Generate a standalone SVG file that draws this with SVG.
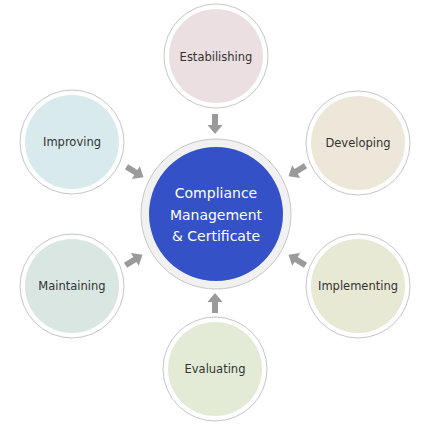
<svg xmlns="http://www.w3.org/2000/svg" width="431" height="431" viewBox="0 0 431 431">
<style>
.ring{fill:#ffffff;stroke:#c6c6c6;stroke-width:1}
.lbl{font-family:"DejaVu Sans",Verdana,sans-serif;font-size:11.5px;fill:#333333;text-anchor:middle}
.clbl{font-family:"DejaVu Sans",Verdana,sans-serif;font-size:14px;fill:#ffffff;text-anchor:middle}
.arr{fill:#9a9a9a}
</style>
<defs>
<path id="a" d="M-10,-3 L1,-3 L1,-7.5 L10,0 L1,7.5 L1,3 L-10,3 Z"/>
</defs>
<rect width="431" height="431" fill="#ffffff"/>
<g id="connectors">
<use href="#a" class="arr" transform="translate(215,124) rotate(90)"/>
<use href="#a" class="arr" transform="translate(215,303) rotate(-90)"/>
<use href="#a" class="arr" transform="translate(135,172) rotate(32)"/>
<use href="#a" class="arr" transform="translate(297,171) rotate(148)"/>
<use href="#a" class="arr" transform="translate(134,260) rotate(-32)"/>
<use href="#a" class="arr" transform="translate(297,260) rotate(212)"/>
</g>
<g id="center">
<circle cx="216" cy="214" r="75" fill="#f1f1f1" stroke="#c6c6c6"/>
<circle cx="216" cy="214" r="67" fill="#3451c8"/>
<text class="clbl" x="216" y="198">Compliance</text>
<text class="clbl" x="216" y="220">Management</text>
<text class="clbl" x="216" y="241">&amp; Certificate</text>
</g>
<g id="establishing">
<circle class="ring" cx="216" cy="56" r="52"/>
<circle cx="216" cy="56" r="47" fill="#ecdfe1"/>
<text class="lbl" x="216" y="61">Estabilishing</text>
</g>
<g id="developing">
<circle class="ring" cx="358" cy="143" r="52"/>
<circle cx="358" cy="143" r="47" fill="#ede7da"/>
<text class="lbl" x="358" y="147">Developing</text>
</g>
<g id="implementing">
<circle class="ring" cx="358" cy="286" r="52"/>
<circle cx="358" cy="286" r="47" fill="#e8e9d5"/>
<text class="lbl" x="358" y="290">Implementing</text>
</g>
<g id="evaluating">
<circle class="ring" cx="215" cy="369" r="52"/>
<circle cx="215" cy="369" r="47" fill="#e3ebd7"/>
<text class="lbl" x="215" y="373">Evaluating</text>
</g>
<g id="maintaining">
<circle class="ring" cx="72" cy="286" r="52"/>
<circle cx="72" cy="286" r="47" fill="#d9e6e2"/>
<text class="lbl" x="72" y="290">Maintaining</text>
</g>
<g id="improving">
<circle class="ring" cx="72" cy="142" r="52"/>
<circle cx="72" cy="142" r="47" fill="#d9eaed"/>
<text class="lbl" x="72" y="146">Improving</text>
</g>
</svg>
